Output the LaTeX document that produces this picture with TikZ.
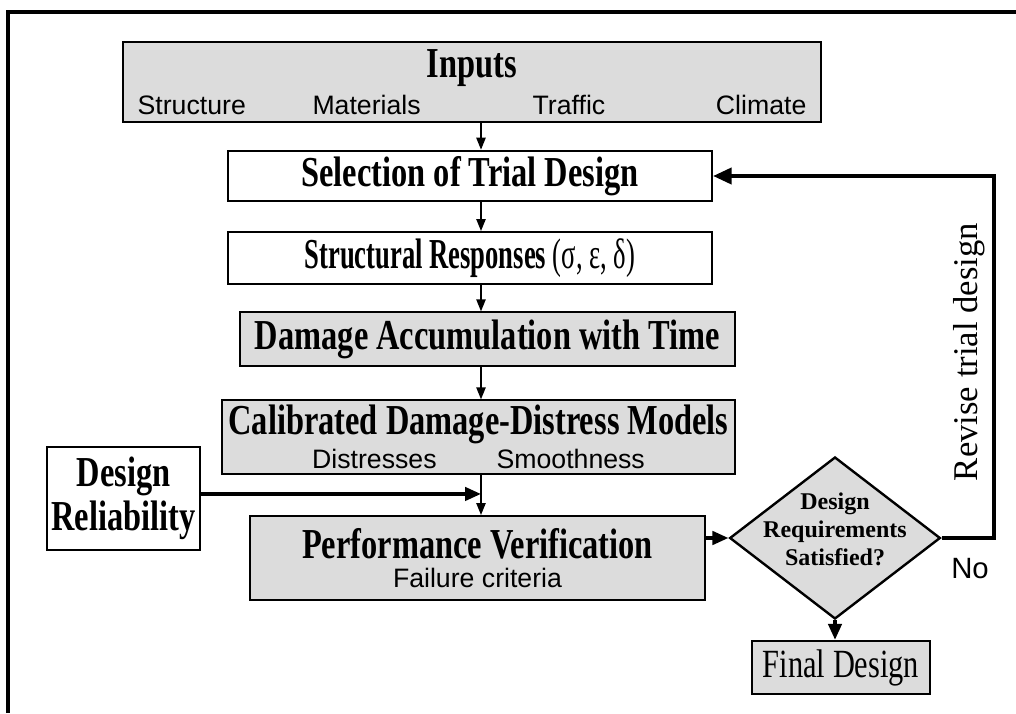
\documentclass[tikz,border=0pt]{standalone}
\usepackage{fontspec}
\setmainfont{Liberation Serif}
\setsansfont{Liberation Sans}
\newfontfamily\condserif[FakeStretch=0.76]{Liberation Serif}
\usepackage{graphicx}
\usepackage{tikz}
\usetikzlibrary{arrows.meta,positioning,shapes.geometric,calc}
\usepackage{xcolor}
\definecolor{speckle}{HTML}{DCDCDC}

\newcommand{\stagehead}[1]{{\condserif\bfseries\fontsize{32}{33}\selectfont #1}}
\newcommand{\stagesub}[1]{{\sffamily\fontsize{20}{22}\selectfont #1}}

\tikzset{
  stage/.style={draw, line width=1.5pt, inner sep=0pt, align=center, fill=white},
  shaded/.style={stage, fill=speckle},
  flow/.style={line width=1.1pt, -{Triangle[length=9pt,width=7pt]}},
  heavy/.style={line width=2.6pt, -{Triangle[length=12pt,width=10pt]}},
}

\begin{document}
\begin{tikzpicture}[x=0.75pt,y=-0.75pt]
  \useasboundingbox (0,0) rectangle (1016,713);
  \draw[line width=2.6pt] (8,713) -- (8,12) -- (1016,12);

  \coordinate (col) at (481,0);
  \coordinate (loop) at (994,0);

  % main column
  \node[shaded, minimum width=524pt, minimum height=60pt] (inputs) at (472,82)
    {\stagehead{Inputs}\\[5pt]\stagesub{Structure\hspace{50pt}Materials\hspace{84pt}Traffic\hspace{83pt}Climate}};
  \node[stage, minimum width=363pt, minimum height=38pt] (trial) at (470,176) {\stagehead{Selection of Trial Design}};
  \node[stage, minimum width=363pt, minimum height=39pt] (resp) at (470,258)
    {\scalebox{0.82}[1]{\stagehead{Structural Responses {\mdseries(σ, ε, δ)}}}};
  \node[shaded, minimum width=371pt, minimum height=40pt] (damage) at (487.5,339) {\stagehead{Damage Accumulation with Time}};
  \node[shaded, minimum width=385pt, minimum height=55pt] (models) at (478.5,437)
    {\stagehead{Calibrated Damage-Distress Models}\\[3pt]\stagesub{Distresses\hspace{45pt}Smoothness\hspace{51pt}}};
  \node[stage, minimum width=115pt, minimum height=77pt] (reliab) at (123.5,498.5) {\stagehead{Design}\\[3pt]\stagehead{Reliability}};
  \node[shaded, minimum width=341pt, minimum height=63pt] (perf) at (477.5,558)
    {{\condserif\bfseries\fontsize{32}{33}\selectfont Performance Verification}\\[6pt]\stagesub{Failure criteria}};

  % decision
  \node[diamond, shaded, line width=1.8pt, minimum width=158pt, minimum height=121.5pt] (check) at (835,538)
    {\makebox[0pt]{\smash{\bfseries\fontsize{18}{21}\selectfont\begin{tabular}{@{}c@{}}Design\\Requirements\\Satisfied?\end{tabular}}}};
  \node[shaded, minimum width=133pt, minimum height=40pt] (final) at (841,667.5) {\condserif\fontsize{30}{31}\selectfont Final Design};
  \node[rotate=90, font=\fontsize{26}{28}\selectfont] (revise) at (969,352) {Revise trial design};
  \node[font=\sffamily\fontsize{22}{24}\selectfont] (no) at (970,569) {No};

  % connectors
  \draw[flow] (inputs.south -| col) -- (trial.north -| col);
  \draw[flow] (trial.south -| col) -- (resp.north -| col);
  \draw[flow] (resp.south -| col) -- (damage.north -| col);
  \draw[flow] (damage.south -| col) -- (models.north -| col);
  \draw[flow] (models.south -| col) -- (perf.north -| col);
  \draw[heavy] ([yshift=3.4pt]reliab.east) -- ([yshift=3.4pt]reliab.east -| col);
  \draw[heavy] (check.west -| perf.east) -- (check.west);
  \draw[heavy] (check.south) -- (final.north -| check.south);
  \draw[heavy, line width=3pt, -{Triangle[length=14pt,width=12pt]}] (check.east) -- (check.east -| loop) -- (trial.east -| loop) -- (trial.east);
\end{tikzpicture}
\end{document}
